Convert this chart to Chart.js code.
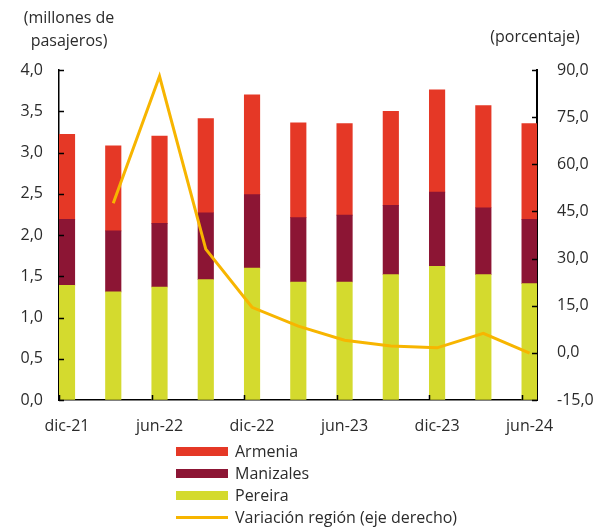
<!DOCTYPE html>
<html>
<head>
<meta charset="utf-8">
<script src="https://cdn.jsdelivr.net/npm/chart.js@4/dist/chart.umd.min.js"></script>
<style>
  html, body { margin: 0; padding: 0; background: #fff; }
  #wrap { position: relative; width: 599px; height: 529px; font-family: "Open Sans", sans-serif; color: #2b2b2b; }
  #plot { position: absolute; left: 0; top: 0; }
  .note { position: absolute; font-size: 16px; line-height: 23px; text-align: center; white-space: nowrap; }
  #legend { position: absolute; left: 176px; top: 440px; font-size: 16px; }
  .row { height: 22px; display: flex; align-items: center; white-space: nowrap; }
  .sw { width: 52px; margin-right: 7px; }
</style>
</head>
<body>
<div id="wrap">
  <canvas id="plot" width="599" height="529"></canvas>
  <div class="note" style="left:20px; top:6px; width:98px;">(millones de<br>pasajeros)</div>
  <div class="note" style="left:485px; top:25px; width:100px;">(porcentaje)</div>
  <div id="legend"></div>
</div>
<script>
// trimestres, dic-21 .. jun-24
const periods = ["dic-21", "mar-22", "jun-22", "sep-22", "dic-22", "mar-23",
                 "jun-23", "sep-23", "dic-23", "mar-24", "jun-24"];
// millones de pasajeros
const pereira   = [1.39, 1.31, 1.37, 1.46, 1.60, 1.43, 1.43, 1.52, 1.62, 1.52, 1.41];
const manizales = [0.80, 0.74, 0.77, 0.81, 0.89, 0.78, 0.81, 0.84, 0.90, 0.81, 0.78];
const armenia   = [1.03, 1.03, 1.06, 1.14, 1.21, 1.15, 1.11, 1.14, 1.24, 1.24, 1.16];
// variacion anual de la region (%), no hay dato en dic-21
const variacion = [null, 47.6, 88.0, 33.0, 14.5, 8.5, 4.0, 2.2, 1.6, 6.2, -0.1];

const leftTicks = [0, 0.5, 1, 1.5, 2, 2.5, 3, 3.5, 4];
const rightTicks = [-15, 0, 15, 30, 45, 60, 75, 90];
const xTickIdx = [0, 2, 4, 6, 8, 10];

const colors = {
  armenia: "#e53826",
  manizales: "#8c1534",
  pereira: "#d4da2e",
  variacion: "#f7b500"
};

const toPts = (arr) => arr.map((v, i) => ({x: i, y: v}));
const fmt = (v, d) => v.toFixed(d).replace(".", ",");

// ticks pointing into the plot
const innerTicks = {
  id: "innerTicks",
  afterDraw(chart) {
    const ctx = chart.ctx;
    const {left, right, bottom} = chart.chartArea;
    const len = 5;
    ctx.save();
    ctx.strokeStyle = "#000";
    ctx.lineWidth = 1.5;
    ctx.beginPath();
    for (let t of leftTicks) {
      let y = Math.round(chart.scales.y.getPixelForValue(t)) + 0.5;
      ctx.moveTo(left, y); ctx.lineTo(left + len, y);
    }
    for (let t of rightTicks) {
      let y = Math.round(chart.scales.y2.getPixelForValue(t)) + 0.5;
      ctx.moveTo(right, y); ctx.lineTo(right - len, y);
    }
    for (let i of xTickIdx) {
      let x = Math.round(chart.scales.x.getPixelForValue(i - 0.17)) + 0.5;
      ctx.moveTo(x, bottom); ctx.lineTo(x, bottom - len);
    }
    ctx.stroke();
    ctx.restore();
  }
};

const tickFont = {family: "'Open Sans', sans-serif", size: 16};

const config = {
  type: "bar",
  data: {
    datasets: [
      {
        type: "line",
        label: "Variación región (eje derecho)",
        data: toPts(variacion),
        yAxisID: "y2",
        borderColor: colors.variacion,
        backgroundColor: colors.variacion,
        borderWidth: 3,
        pointRadius: 0,
        tension: 0,
        order: 0
      },
      {label: "Pereira", data: toPts(pereira), backgroundColor: colors.pereira, order: 1},
      {label: "Manizales", data: toPts(manizales), backgroundColor: colors.manizales, order: 1},
      {label: "Armenia", data: toPts(armenia), backgroundColor: colors.armenia, order: 1}
    ]
  },
  options: {
    responsive: false,
    animation: false,
    devicePixelRatio: 1,
    barThickness: 15.5,
    layout: {padding: {top: 70, left: 0, right: 0, bottom: 0}},
    plugins: {legend: {display: false}, tooltip: {enabled: false}},
    scales: {
      x: {
        type: "linear",
        stacked: true,
        offset: false,
        min: -0.173,
        max: 10.16,
        afterBuildTicks: (s) => { s.ticks = xTickIdx.map(v => ({value: v})); },
        afterFit: (s) => { s.height = 129; },
        ticks: {
          callback: (v) => periods[v],
          font: tickFont,
          color: "#2b2b2b",
          padding: 17,
          maxRotation: 0
        },
        grid: {drawOnChartArea: false, drawTicks: false, offset: false},
        border: {display: true, color: "#000", width: 1.5}
      },
      y: {
        position: "left",
        stacked: true,
        min: 0,
        max: 4,
        afterBuildTicks: (s) => { s.ticks = leftTicks.map(v => ({value: v})); },
        afterFit: (s) => { s.width = 59; },
        ticks: {
          callback: (v) => fmt(v, 1),
          font: tickFont,
          color: "#2b2b2b",
          padding: 16
        },
        grid: {drawOnChartArea: false, drawTicks: false},
        border: {display: true, color: "#000", width: 1.5}
      },
      y2: {
        position: "right",
        min: -15,
        max: 90,
        afterBuildTicks: (s) => { s.ticks = rightTicks.map(v => ({value: v})); },
        afterFit: (s) => { s.width = 62; },
        ticks: {
          callback: (v) => fmt(v, 1),
          font: tickFont,
          color: "#2b2b2b",
          padding: 20
        },
        grid: {drawOnChartArea: false, drawTicks: false},
        border: {display: true, color: "#000", width: 2}
      }
    }
  },
  plugins: [innerTicks]
};

const chart = new Chart(document.getElementById("plot").getContext("2d"), config);

// legend, same order as the reference
const legendOrder = ["Armenia", "Manizales", "Pereira", "Variación región (eje derecho)"];
const legend = document.getElementById("legend");
for (let name of legendOrder) {
  let ds = chart.data.datasets.find(d => d.label === name);
  let row = document.createElement("div");
  row.className = "row";
  let sw = document.createElement("div");
  sw.className = "sw";
  if (ds.type === "line") {
    sw.style.height = "3px";
    sw.style.background = ds.borderColor;
  } else {
    sw.style.height = "9px";
    sw.style.background = ds.backgroundColor;
  }
  let txt = document.createElement("span");
  txt.textContent = name;
  row.appendChild(sw);
  row.appendChild(txt);
  legend.appendChild(row);
}
</script>
</body>
</html>
